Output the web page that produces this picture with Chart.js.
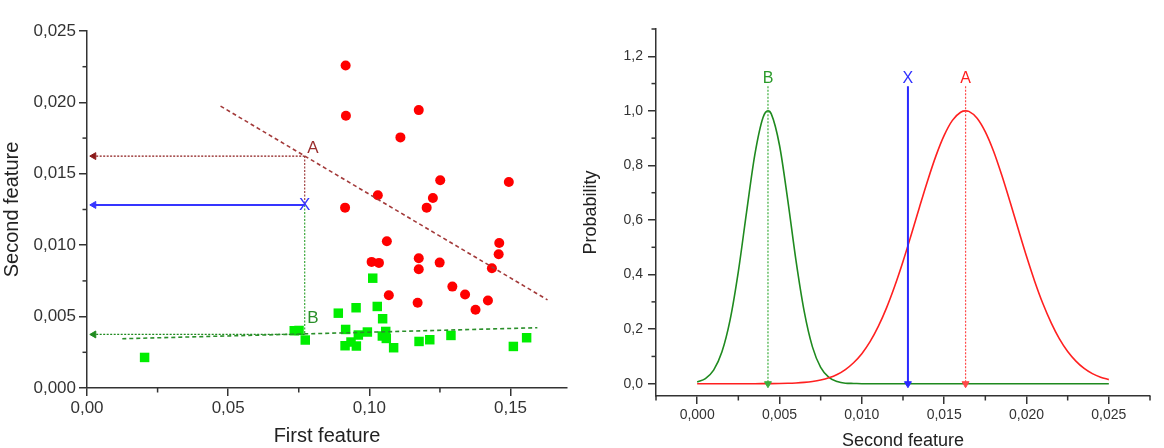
<!DOCTYPE html>
<html><head><meta charset="utf-8">
<script src="https://cdn.jsdelivr.net/npm/chart.js@4.4.1/dist/chart.umd.min.js"></script>
<style>
html,body{margin:0;padding:0;background:#fff;overflow:hidden;width:1164px;height:448px;}
#w1{position:absolute;left:0;top:0;width:580px;height:448px;}
#w2{position:absolute;left:580px;top:0;width:584px;height:452px;}
</style></head><body>
<div id="w1"><canvas id="c1"></canvas></div>
<div id="w2"><canvas id="c2"></canvas></div>
<script>
// ---------- Left chart data ----------
const redX = [0.0916,0.0917,0.1175,0.1110,0.0914,0.1251,0.1494,0.1030,0.1225,0.1203,0.1062,0.1460,0.1458,0.1008,0.1034,0.1175,0.1175,0.1249,0.1434,0.1294,0.1339,0.1069,0.1171,0.1420,0.1376];
const redY = [0.02259,0.01906,0.01946,0.01755,0.01263,0.01455,0.01443,0.01350,0.01331,0.01263,0.01028,0.01016,0.00937,0.00883,0.00876,0.00909,0.00832,0.00878,0.00839,0.00710,0.00655,0.00650,0.00597,0.00613,0.00548];
const greenX = [0.1012,0.0890,0.0953,0.1028,0.1047,0.0916,0.0734,0.0751,0.0773,0.0993,0.0961,0.1058,0.1046,0.1060,0.0935,0.0914,0.0954,0.1086,0.1176,0.1214,0.1289,0.1557,0.1510,0.0204];
const greenY = [0.00769,0.00524,0.00562,0.00571,0.00485,0.00410,0.00401,0.00403,0.00336,0.00392,0.00371,0.00396,0.00364,0.00347,0.00322,0.00296,0.00294,0.00282,0.00326,0.00338,0.00368,0.00352,0.00291,0.00214];
const boundaryAX = [0.0473, 0.1631];
const boundaryAY = [0.01974, 0.00617];
const boundaryBX = [0.0125, 0.1595];
const boundaryBY = [0.00345, 0.00422];
const projX = 0.0771;      // first feature of the unknown sample
const projAY = 0.01624;    // point A
const projXY = 0.01282;    // point X
const projBY = 0.00375;    // point B
const arrowTipX = 0.0024;  // arrow heads near the y axis
const leftXTicks = [0, 0.05, 0.10, 0.15];
const leftXLabels = ['0,00','0,05','0,10','0,15'];
const leftYTicks = [0, 0.005, 0.010, 0.015, 0.020, 0.025];
const leftYLabels = ['0,000','0,005','0,010','0,015','0,020','0,025'];
const leftXMinor = [0.025, 0.075, 0.125];
const leftYMinor = [0.0025, 0.0075, 0.0125, 0.0175, 0.0225];

// ---------- Right chart data ----------
const probX = [0,0.0005,0.001,0.0015,0.002,0.0025,0.003,0.0035,0.004,0.0043,0.0045,0.005,0.0055,0.006,0.0065,0.007,0.0075,0.008,0.0085,0.009,0.0095,0.010,0.0105,0.011,0.0115,0.012,0.0125,0.013,0.0135,0.014,0.0145,0.015,0.0155,0.016,0.0163,0.0165,0.017,0.0175,0.018,0.0185,0.019,0.0195,0.020,0.0205,0.021,0.0215,0.022,0.0225,0.023,0.0235,0.024,0.0245,0.025];
const greenProb = [0.006,0.019,0.050,0.116,0.234,0.411,0.629,0.839,0.976,1.000,0.989,0.874,0.674,0.452,0.265,0.135,0.060,0.023,0.008,0.002,0.001,0,0,0,0,0,0,0,0,0,0,0,0,0,0,0,0,0,0,0,0,0,0,0,0,0,0,0,0,0,0,0,0];
const redProb = [0,0,0,0,0,0,0.0001,0.0001,0.0002,0.0003,0.0004,0.0008,0.0015,0.0028,0.0049,0.0082,0.0135,0.0218,0.034,0.052,0.077,0.110,0.154,0.210,0.278,0.358,0.448,0.546,0.647,0.745,0.835,0.910,0.965,0.995,1.000,0.998,0.973,0.923,0.852,0.764,0.667,0.566,0.467,0.375,0.293,0.223,0.164,0.118,0.083,0.056,0.037,0.024,0.015];
const markB = 0.0043, markX = 0.0128, markA = 0.0163, markTop = 1.09, markLabelY = 1.12;
const rightXTicks = [0, 0.005, 0.010, 0.015, 0.020, 0.025];
const rightXLabels = ['0,000','0,005','0,010','0,015','0,020','0,025'];
const rightYTicks = [0, 0.2, 0.4, 0.6, 0.8, 1.0, 1.2];
const rightYLabels = ['0,0','0,2','0,4','0,6','0,8','1,0','1,2'];
const rightXMinor = [-0.0025, 0.0025, 0.0075, 0.0125, 0.0175, 0.0225, 0.0275];
const rightYMinor = [0.1, 0.3, 0.5, 0.7, 0.9, 1.1, 1.3];

// ---------- helpers ----------
const F = '"Liberation Sans", Arial, Helvetica, sans-serif';
const AX = '#333333';
const TXT = '#333333';
const pts = (xs, ys) => xs.map((x, i) => ({x: x, y: ys[i]}));

const extras = {
  id: 'extras',
  afterDraw(chart, args, opts) {
    const ctx = chart.ctx;
    ctx.save();
    (opts.minor || []).forEach(m => {
      const s = chart.scales[m.axis];
      ctx.strokeStyle = AX; ctx.lineWidth = 1.5; ctx.setLineDash([]);
      m.values.forEach(v => {
        const p = s.getPixelForValue(v);
        ctx.beginPath();
        if (s.isHorizontal()) { ctx.moveTo(p, s.top); ctx.lineTo(p, s.top + m.len); }
        else { ctx.moveTo(s.right, p); ctx.lineTo(s.right - m.len, p); }
        ctx.stroke();
      });
    });
    (opts.labels || []).forEach(l => {
      ctx.fillStyle = l.color;
      ctx.font = l.size + 'px ' + F;
      ctx.textAlign = 'center'; ctx.textBaseline = 'middle';
      ctx.fillText(l.text, chart.scales.x.getPixelForValue(l.x), chart.scales.y.getPixelForValue(l.y));
    });
    ctx.restore();
  }
};

function axis(opts) {
  return {
    type: 'linear', min: opts.min, max: opts.max,
    afterBuildTicks: s => { s.ticks = opts.ticks.map(v => ({value: v})); },
    afterFit: opts.fit,
    grid: { display: true, drawOnChartArea: false, drawTicks: true, tickLength: 8, color: AX, lineWidth: 1.5 },
    border: { display: true, color: AX, width: 1.5 },
    ticks: { callback: (v, i) => opts.labels[i], font: {family: F, size: opts.tickSize}, color: TXT,
             padding: opts.pad, maxRotation: 0, autoSkip: false },
    title: { display: true, text: opts.title, font: {family: F, size: opts.titleSize}, color: '#222', padding: 0 }
  };
}

const lineDs = (xs, ys, color, width, dash, arrowRot) => ({
  data: pts(xs, ys), showLine: true, borderColor: color, backgroundColor: color,
  borderWidth: width, borderDash: dash, clip: false,
  pointRadius: arrowRot === undefined ? 0 : [0, 4],
  pointStyle: 'triangle', pointRotation: arrowRot === undefined ? 0 : [0, arrowRot],
  pointBackgroundColor: color, pointBorderColor: color, pointBorderWidth: 1
});

const common = {
  responsive: true, maintainAspectRatio: false, animation: false, events: [],
  plugins: { legend: {display: false}, tooltip: {enabled: false} }
};

// ---------- Left chart ----------
new Chart(document.getElementById('c1'), {
  type: 'scatter',
  data: { datasets: [
    lineDs(boundaryAX, boundaryAY, '#a33a3a', 1.6, [4, 3]),
    lineDs(boundaryBX, boundaryBY, '#2a8f2a', 1.6, [4, 3]),
    lineDs([projX, arrowTipX], [projAY, projAY], '#8b1a1a', 1.3, [2, 1.5], 270),
    lineDs([projX, projX], [projAY, projXY], '#a04040', 1.2, [2, 1.5]),
    lineDs([projX, arrowTipX], [projXY, projXY], '#3535ff', 2, [], 270),
    lineDs([projX, projX], [projXY, projBY], '#3aa83a', 1.2, [2, 1.5]),
    lineDs([projX, arrowTipX], [projBY, projBY], '#1f8a1f', 1.3, [2, 1.5], 270),
    { data: pts(redX, redY), pointStyle: 'circle', pointRadius: 5, backgroundColor: '#ff0000', borderColor: '#ff0000', borderWidth: 0, showLine: false },
    { data: pts(greenX, greenY), pointStyle: 'rect', pointRadius: 6.7, backgroundColor: '#00ee00', borderColor: '#00ee00', borderWidth: 0, showLine: false }
  ]},
  options: Object.assign({}, common, {
    layout: { padding: {left: 0, top: 31, right: 13, bottom: 0} },
    scales: {
      x: axis({min: 0, max: 0.17, ticks: leftXTicks, labels: leftXLabels, tickSize: 17, pad: 2,
               title: 'First feature', titleSize: 20, fit: s => { s.height = 60; }}),
      y: axis({min: 0, max: 0.025, ticks: leftYTicks, labels: leftYLabels, tickSize: 17, pad: 3,
               title: 'Second feature', titleSize: 20, fit: s => { s.width = 87; }})
    },
    plugins: Object.assign({}, common.plugins, {
      extras: {
        minor: [{axis: 'x', values: leftXMinor, len: 4.5}, {axis: 'y', values: leftYMinor, len: 4.5}],
        labels: [
          {text: 'A', x: 0.0800, y: 0.0168, color: '#9b3030', size: 17},
          {text: 'X', x: projX, y: projXY, color: '#3535ff', size: 17},
          {text: 'B', x: 0.0800, y: 0.0049, color: '#2a8f2a', size: 17}
        ]
      }
    })
  }),
  plugins: [extras]
});

// ---------- Right chart ----------
new Chart(document.getElementById('c2'), {
  type: 'scatter',
  data: { datasets: [
    lineDs([markB, markB], [markTop, 0], '#3cae3c', 1.2, [2, 1.5], 180),
    lineDs([markX, markX], [markTop, 0], '#2a2aff', 2, [], 180),
    lineDs([markA, markA], [markTop, 0], '#ff4a4a', 1.2, [2, 1.5], 180),
    { data: pts(probX, redProb), showLine: true, pointRadius: 0, borderColor: '#ff2020', borderWidth: 1.6, cubicInterpolationMode: 'monotone' },
    { data: pts(probX, greenProb), showLine: true, pointRadius: 0, borderColor: '#1f8a1f', borderWidth: 1.6, cubicInterpolationMode: 'monotone' }
  ]},
  options: Object.assign({}, common, {
    layout: { padding: {left: 0, top: 29, right: 14, bottom: 0} },
    scales: {
      x: axis({min: -0.0025, max: 0.0275, ticks: rightXTicks, labels: rightXLabels, tickSize: 14, pad: 3,
               title: 'Second feature', titleSize: 18, fit: s => { s.height = 56; }}),
      y: axis({min: -0.045, max: 1.3, ticks: rightYTicks, labels: rightYLabels, tickSize: 14, pad: 5,
               title: 'Probability', titleSize: 18, fit: s => { s.width = 76; }})
    },
    plugins: Object.assign({}, common.plugins, {
      extras: {
        minor: [{axis: 'x', values: rightXMinor, len: 4.5}, {axis: 'y', values: rightYMinor, len: 4.5}],
        labels: [
          {text: 'B', x: markB, y: markLabelY, color: '#2a9a2a', size: 16},
          {text: 'X', x: markX, y: markLabelY, color: '#3030ff', size: 16},
          {text: 'A', x: markA, y: markLabelY, color: '#ff2020', size: 16}
        ]
      }
    })
  }),
  plugins: [extras]
});
</script>
</body></html>
